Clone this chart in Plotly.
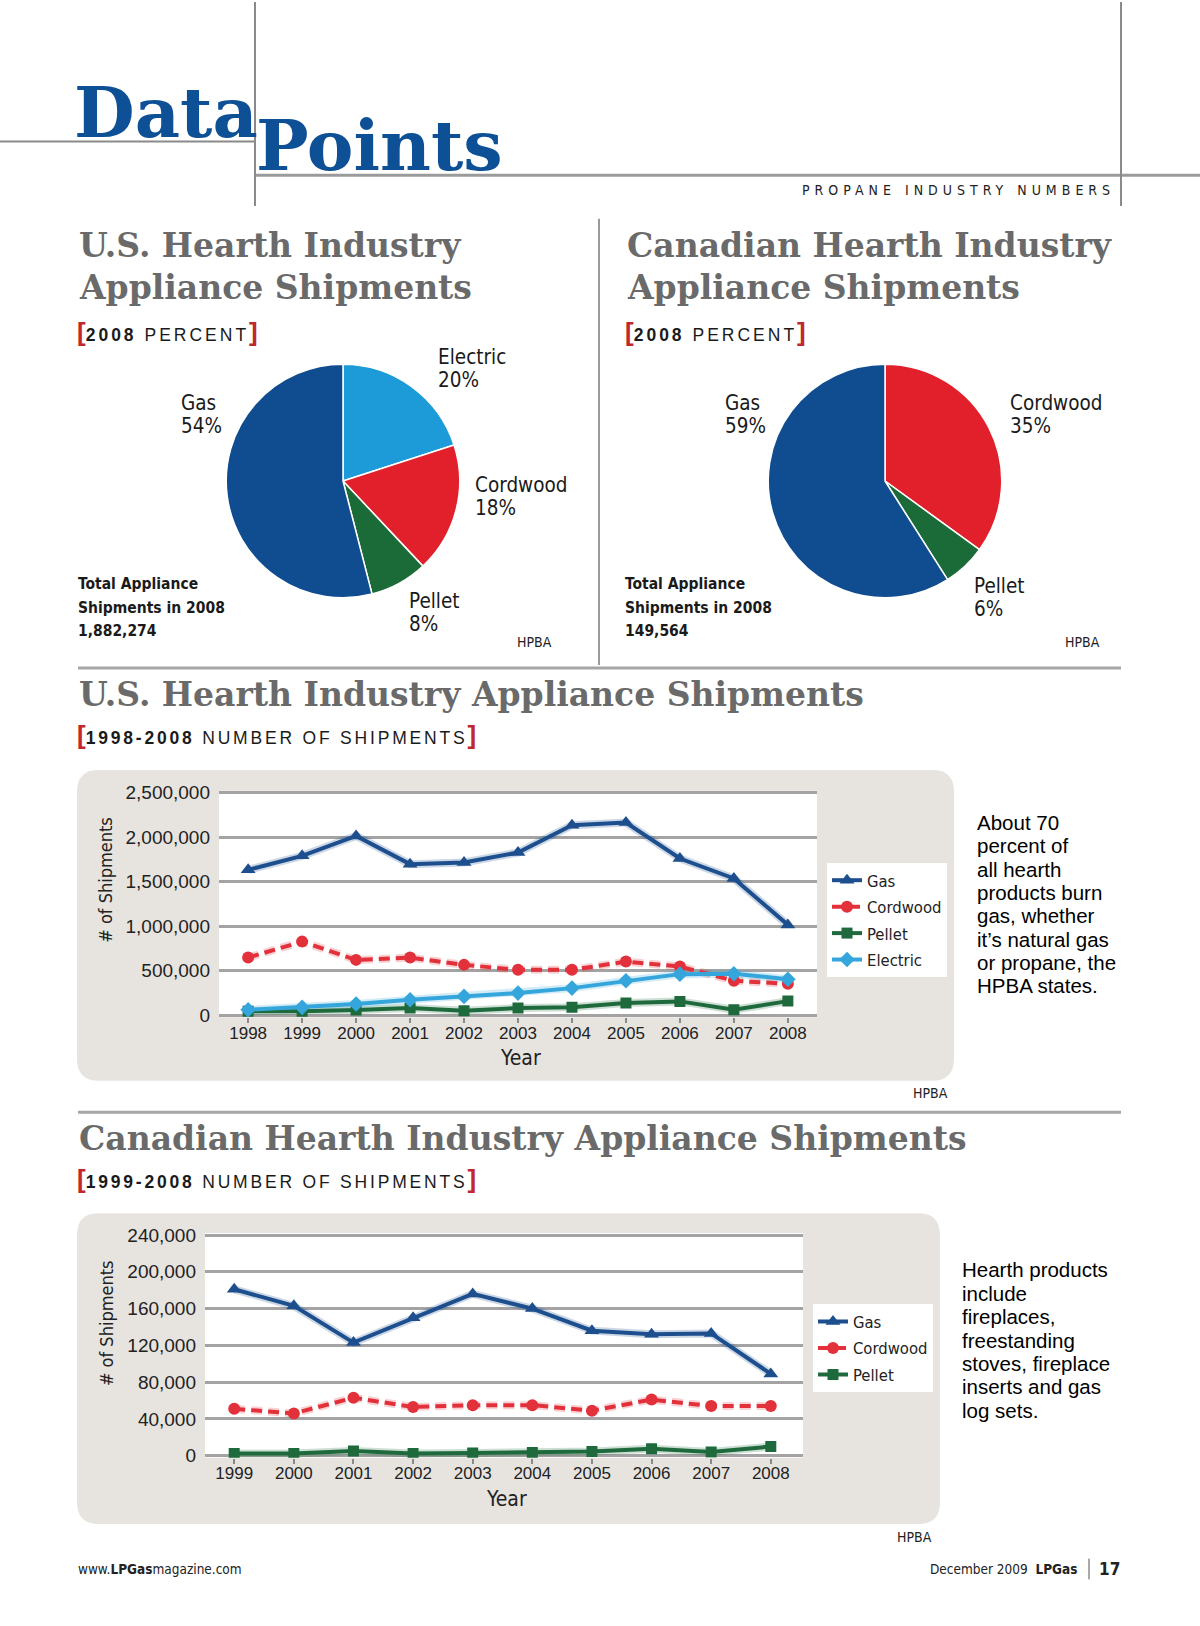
import plotly.graph_objects as go

W, H = 1200, 1626

# ---------------- data ----------------
us_pie_labels = ["Electric", "Cordwood", "Pellet", "Gas"]
us_pie_values = [20, 18, 8, 54]
ca_pie_labels = ["Cordwood", "Pellet", "Gas"]
ca_pie_values = [35, 6, 59]
us_total_2008 = "1,882,274"
ca_total_2008 = "149,564"

us_years = [1998, 1999, 2000, 2001, 2002, 2003, 2004, 2005, 2006, 2007, 2008]
us_gas = [1634000, 1791000, 2015000, 1698000, 1716000, 1828000, 2134000, 2164000, 1761000, 1537000, 1016000]
us_cordwood = [649000, 828000, 623000, 649000, 567000, 511000, 511000, 604000, 548000, 388000, 355000]
us_pellet = [45000, 45000, 60000, 82000, 52000, 82000, 90000, 138000, 157000, 63000, 160000]
us_electric = [63000, 90000, 127000, 175000, 213000, 250000, 306000, 388000, 463000, 468000, 405000]
us_y_ticks = [0, 500000, 1000000, 1500000, 2000000, 2500000]
us_y_labels = ["0", "500,000", "1,000,000", "1,500,000", "2,000,000", "2,500,000"]

ca_years = [1999, 2000, 2001, 2002, 2003, 2004, 2005, 2006, 2007, 2008]
ca_gas = [181000, 163000, 123000, 150000, 176000, 160000, 136000, 132000, 133000, 89000]
ca_cordwood = [51000, 46000, 63000, 53000, 55000, 55000, 49000, 61000, 54000, 54000]
ca_pellet = [2500, 2500, 5000, 2500, 3000, 3500, 4500, 7500, 4000, 10000]
ca_y_ticks = [0, 40000, 80000, 120000, 160000, 200000, 240000]
ca_y_labels = ["0", "40,000", "80,000", "120,000", "160,000", "200,000", "240,000"]

# ---------------- styles ----------------
PIE_COLORS = {"Gas": "#0f4c90", "Electric": "#1c9bd8", "Cordwood": "#e2202b", "Pellet": "#1b6b39"}
LINE_COLORS = {"Gas": "#1d4f8e", "Cordwood": "#e3313b", "Pellet": "#1e6a3c", "Electric": "#34a6dc"}
SYMBOLS = {"Gas": "triangle-up", "Cordwood": "circle", "Pellet": "square", "Electric": "diamond"}
DASHES = {"Gas": "solid", "Cordwood": "11px,6px", "Pellet": "solid", "Electric": "solid"}

SERIF = "DejaVu Serif"
NARROW = "DejaVu Sans Condensed, Liberation Sans"
SANS = "Liberation Sans, Arial, Helvetica"
BLUE = "#0d5096"
GRAY_T = "#6a6a6a"
RED_B = "#c1272d"
INK = "#1a1a1a"


def T(text, x, y, size, family, color=INK, xa="left", ya="middle", angle=0):
    return dict(text=text, x=x / W, y=1 - y / H, xref="paper", yref="paper",
                showarrow=False, xanchor=xa, yanchor=ya, textangle=angle,
                align="left", borderpad=0,
                font=dict(size=size, family=family, color=color))


def L(x0, y0, x1, y1, color="#8f8f8f", width=2):
    return dict(type="line", xref="paper", yref="paper", x0=x0 / W, y0=1 - y0 / H,
                x1=x1 / W, y1=1 - y1 / H, line=dict(color=color, width=width))


def rrect(x0, y0, x1, y1, r, color):
    def p(x, y):
        return f"{x / W:.5f},{1 - y / H:.5f}"
    path = (f"M {p(x0 + r, y0)} L {p(x1 - r, y0)} Q {p(x1, y0)} {p(x1, y0 + r)} "
            f"L {p(x1, y1 - r)} Q {p(x1, y1)} {p(x1 - r, y1)} L {p(x0 + r, y1)} "
            f"Q {p(x0, y1)} {p(x0, y1 - r)} L {p(x0, y0 + r)} Q {p(x0, y0)} {p(x0 + r, y0)} Z")
    return dict(type="path", xref="paper", yref="paper", path=path,
                fillcolor=color, line=dict(width=0), layer="below")


def bracket(bold_part, rest, spacing=2.8):
    br = f'<span style="color:{RED_B};font-size:26px"><b>%s</b></span>'
    return (br % "[" + f'<span style="letter-spacing:{spacing}px"><b>{bold_part}</b> {rest}</span>' + br % "]")


fig = go.Figure()

# ---------------- pies ----------------
def pie_domain(cx, cy, r):
    return dict(x=[(cx - r) / W, (cx + r) / W], y=[1 - (cy + r) / H, 1 - (cy - r) / H])

fig.add_trace(go.Pie(labels=us_pie_labels, values=us_pie_values, sort=False,
                     direction="clockwise", rotation=0, textinfo="none",
                     marker=dict(colors=[PIE_COLORS[k] for k in us_pie_labels],
                                 line=dict(color="white", width=1.5)),
                     showlegend=False, domain=pie_domain(343, 478, 118)))
fig.add_trace(go.Pie(labels=ca_pie_labels, values=ca_pie_values, sort=False,
                     direction="clockwise", rotation=0, textinfo="none",
                     marker=dict(colors=[PIE_COLORS[k] for k in ca_pie_labels],
                                 line=dict(color="white", width=1.5)),
                     showlegend=False, domain=pie_domain(885, 478, 118)))

# ---------------- line charts ----------------
us_series = [("Gas", us_gas), ("Cordwood", us_cordwood), ("Pellet", us_pellet), ("Electric", us_electric)]
ca_series = [("Gas", ca_gas), ("Cordwood", ca_cordwood), ("Pellet", ca_pellet)]
MSIZE = {"Gas": 13, "Cordwood": 12, "Pellet": 11, "Electric": 12}

# soft halo under each line (same data, wide translucent stroke)
for xs, series, xa, ya in [(us_years, us_series, "x", "y"), (ca_years, ca_series, "x2", "y2")]:
    for name, vals in series:
        fig.add_trace(go.Scatter(x=xs, y=vals, mode="lines", hoverinfo="skip", showlegend=False,
                                 line=dict(color=LINE_COLORS[name], width=8, dash=DASHES[name]),
                                 opacity=0.22, xaxis=xa, yaxis=ya))

for name, vals in us_series:
    fig.add_trace(go.Scatter(x=us_years, y=vals, name=name, mode="lines+markers",
                             legendgroup="us_" + name,
                             line=dict(color=LINE_COLORS[name], width=4, dash=DASHES[name]),
                             marker=dict(symbol=SYMBOLS[name], size=MSIZE[name], color=LINE_COLORS[name]),
                             xaxis="x", yaxis="y", legend="legend"))
for name, vals in ca_series:
    fig.add_trace(go.Scatter(x=ca_years, y=vals, name=name, mode="lines+markers",
                             legendgroup="ca_" + name,
                             line=dict(color=LINE_COLORS[name], width=4, dash=DASHES[name]),
                             marker=dict(symbol=SYMBOLS[name], size=MSIZE[name], color=LINE_COLORS[name]),
                             xaxis="x2", yaxis="y2", legend="legend2"))

GRID = "#a3a3a3"
xcommon = dict(ticks="outside", ticklen=5, tickwidth=1.5, tickcolor="#8a8a8a",
               showgrid=False, zeroline=False, showline=False, fixedrange=True,
               ticklabelstandoff=-5,
               tickfont=dict(family=SANS, size=17, color="#222"))
ycommon = dict(showgrid=True, gridcolor=GRID, gridwidth=2.5, zeroline=False, showline=False,
               ticks="", fixedrange=True, ticklabelstandoff=8,
               tickfont=dict(family=SANS, size=19, color="#222"))

xaxis = dict(domain=[219 / W, 817 / W], range=[1997.46, 2008.54], anchor="y",
             tickmode="array", tickvals=us_years, ticktext=[str(v) for v in us_years], **xcommon)
yaxis = dict(domain=[1 - 1020 / H, 1 - 791 / H], range=[-22000, 2522000], anchor="x",
             tickmode="array", tickvals=us_y_ticks, ticktext=us_y_labels, **ycommon)
xaxis2 = dict(domain=[205 / W, 803 / W], range=[1998.51, 2008.54], anchor="y2",
              tickmode="array", tickvals=ca_years, ticktext=[str(v) for v in ca_years], **xcommon)
yaxis2 = dict(domain=[1 - 1465 / H, 1 - 1238 / H], range=[-2150, 242150], anchor="x2",
              tickmode="array", tickvals=ca_y_ticks, ticktext=ca_y_labels, **ycommon)

legend_common = dict(xanchor="left", yanchor="top", bgcolor="white", borderwidth=0,
                     font=dict(family=NARROW, size=16.5, color="#222"), itemwidth=30,
                     tracegroupgap=2, traceorder="grouped")

# ---------------- shapes ----------------
shapes = [
    # header rules
    L(0, 135, 255, 135, "#8a8a8a", 2),
    L(255, 169, 1200, 169, "#9a9a9a", 3),
    L(255, -6, 255, 200, "#8a8a8a", 2),
    L(1121, -6, 1121, 200, "#8a8a8a", 2),
    # column divider and section rules
    L(599, 213, 599, 664, "#9a9a9a", 2),
    L(78, 667, 1121, 667, "#a6a6a6", 3),
    L(78, 1116, 1121, 1116, "#a6a6a6", 3),
    # chart panels
    rrect(77, 770, 954, 1084, 22, "#e7e4df"),
    rrect(77, 1218, 940, 1532, 22, "#e7e4df"),
    dict(type="rect", xref="x domain", yref="y domain", x0=0, x1=1, y0=0, y1=1,
         fillcolor="white", line=dict(width=0), layer="below"),
    dict(type="rect", xref="x2 domain", yref="y2 domain", x0=0, x1=1, y0=0, y1=1,
         fillcolor="white", line=dict(width=0), layer="below"),
    # footer separator
    L(1089, 1567, 1089, 1588, "#555", 1),
]

# ---------------- texts ----------------
ann = []
# header
ann.append(T("<b>Data</b>", 73, 106, 70, SERIF, BLUE))
ann.append(T("<b>Points</b>", 255, 139, 70, SERIF, BLUE))
ann.append(T('<span style="letter-spacing:5px">PROPANE INDUSTRY NUMBERS</span>', 1116, 184, 14, NARROW, "#222", xa="right"))

# pie titles
for x0, l1 in [(78, "U.S. Hearth Industry"), (626, "Canadian Hearth Industry")]:
    ann.append(T(f"<b>{l1}</b>", x0, 240, 33, SERIF, GRAY_T))
    ann.append(T("<b>Appliance Shipments</b>", x0, 282, 33, SERIF, GRAY_T))
    ann.append(T(bracket("2008", "PERCENT", 3.0), x0 - 2, 327, 17.5, SANS, INK))

# pie labels (two lines each)
def two_lines(a, b, x, yc, size=20.5, fam=NARROW, color=INK, gap=23.5):
    return [T(a, x, yc - gap / 2, size, fam, color), T(b, x, yc + gap / 2, size, fam, color)]

ann += two_lines("Electric", f"{us_pie_values[0]}%", 437, 364)
ann += two_lines("Cordwood", f"{us_pie_values[1]}%", 474, 494)
ann += two_lines("Pellet", f"{us_pie_values[2]}%", 408, 611)
ann += two_lines("Gas", f"{us_pie_values[3]}%", 180, 411)
ann += two_lines("Cordwood", f"{ca_pie_values[0]}%", 1009, 411)
ann += two_lines("Pellet", f"{ca_pie_values[1]}%", 973, 596)
ann += two_lines("Gas", f"{ca_pie_values[2]}%", 724, 411)

for x0, tot in [(77, us_total_2008), (624, ca_total_2008)]:
    for i, s in enumerate(["Total Appliance", "Shipments in 2008", tot]):
        ann.append(T(f"<b>{s}</b>", x0, 582 + 24 * i, 15.5, NARROW, INK))

ann.append(T("HPBA", 516, 641, 14, NARROW, "#222"))
ann.append(T("HPBA", 1064, 641, 14, NARROW, "#222"))

# line chart titles
ann.append(T("<b>U.S. Hearth Industry Appliance Shipments</b>", 78, 694, 33, SERIF, GRAY_T))
ann.append(T(bracket("1998-2008", "NUMBER OF SHIPMENTS"), 76, 735, 17.5, SANS, INK))
ann.append(T("<b>Canadian Hearth Industry Appliance Shipments</b>", 78, 1142, 33, SERIF, GRAY_T))
ann.append(T(bracket("1999-2008", "NUMBER OF SHIPMENTS"), 76, 1183, 17.5, SANS, INK))

# axis titles
ann.append(T("# of Shipments", 106, 881, 18, NARROW, "#222", xa="center", angle=-90))
ann.append(T("Year", 520, 1061, 21, NARROW, "#222", xa="center"))
ann.append(T("# of Shipments", 106, 1329, 18, NARROW, "#222", xa="center", angle=-90))
ann.append(T("Year", 506, 1507, 21, NARROW, "#222", xa="center"))

# side notes
us_note = ["About 70", "percent of", "all hearth", "products burn", "gas, whether",
           "it\u2019s natural gas", "or propane, the", "HPBA states."]
for i, s in enumerate(us_note):
    ann.append(T(s, 976, 823 + 23.6 * i, 20.5, SANS, "#000"))
ca_note = ["Hearth products", "include", "fireplaces,", "freestanding", "stoves, fireplace",
           "inserts and gas", "log sets."]
for i, s in enumerate(ca_note):
    ann.append(T(s, 961, 1275 + 23.7 * i, 20.5, SANS, "#000"))

ann.append(T("HPBA", 912, 1096, 14, NARROW, "#222"))
ann.append(T("HPBA", 896, 1545, 14, NARROW, "#222"))

# footer
ann.append(T("www.<b>LPGas</b>magazine.com", 77, 1577, 13.5, NARROW, "#222"))
ann.append(T("December 2009  <b>LPGas</b>", 1079, 1577, 13.5, NARROW, "#222", xa="right"))
ann.append(T("<b>17</b>", 1121, 1577, 17, NARROW, "#222", xa="right"))

fig.update_layout(
    width=W, height=H, margin=dict(l=0, r=0, t=0, b=0),
    paper_bgcolor="white", plot_bgcolor="rgba(0,0,0,0)",
    xaxis=xaxis, yaxis=yaxis, xaxis2=xaxis2, yaxis2=yaxis2,
    legend=dict(x=827 / W, y=1 - 864 / H, **legend_common),
    legend2=dict(x=813 / W, y=1 - 1310 / H, **legend_common),
    shapes=shapes, annotations=ann, showlegend=True,
    font=dict(family=SANS, color="#222"),
)

fig.write_html("out.html", config={"displayModeBar": False},
               post_script="document.body.style.margin='0px';document.body.style.padding='0px';")
